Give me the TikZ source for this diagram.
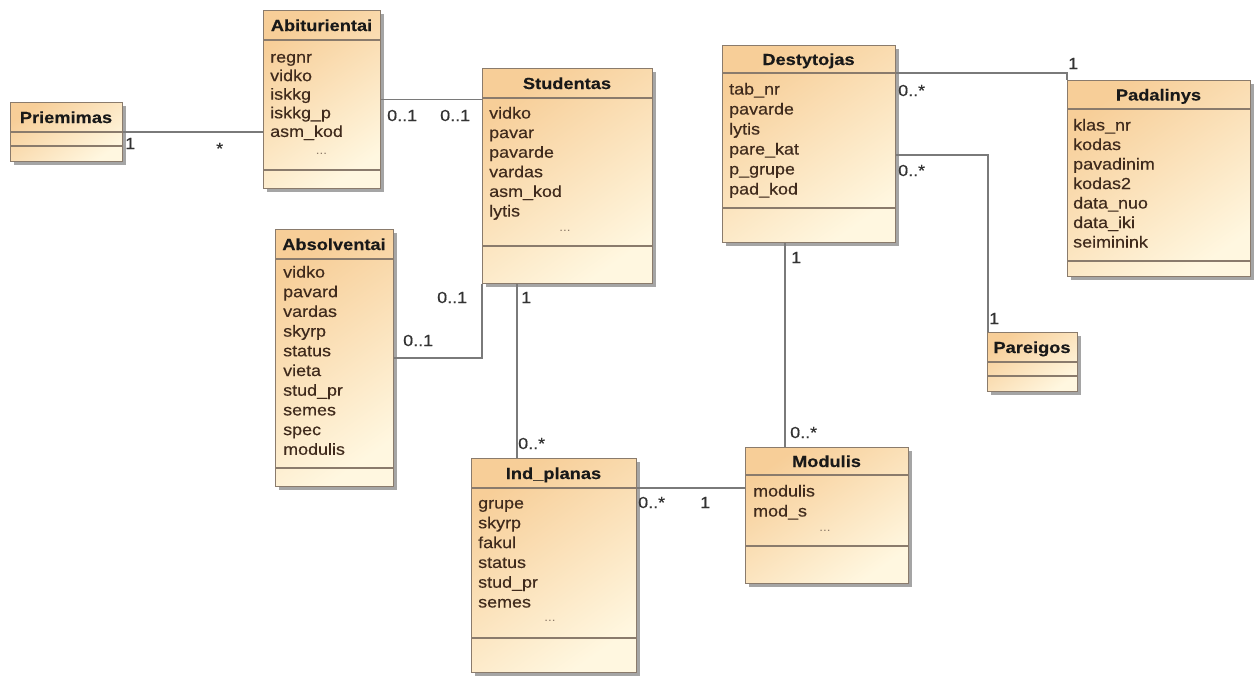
\documentclass[tikz,border=0pt]{standalone}
\usepackage{fontspec}
\setmainfont{Liberation Sans}[FakeStretch=1.12]
\newfontfamily\attrfont{Liberation Sans}[FakeStretch=1.12, FakeBold=0.35]
\newfontfamily\titlefont{Liberation Sans Bold}[FakeStretch=1.14, FakeBold=0.3]
\usetikzlibrary{shadows}

\definecolor{boxtop}{HTML}{F7CE98}
\definecolor{boxbot}{HTML}{FFF7E0}
\definecolor{boxedge}{HTML}{8A7B6C}
\definecolor{linkgray}{HTML}{7A7A7A}
\definecolor{attrink}{HTML}{3F2A1C}
\definecolor{dotsink}{HTML}{8C7A68}
\definecolor{multink}{HTML}{333333}

\tikzset{
  classbox/.style={draw=boxedge, line width=1.1pt, inner sep=0pt,
    top color=boxtop, bottom color=boxbot, shading angle=35,
    drop shadow={shadow xshift=3pt, shadow yshift=-3pt, fill=black!50, opacity=0.7}},
  sepline/.style={draw=boxedge, line width=1.1pt},
  titletext/.style={font=\titlefont\fontsize{16}{19}\selectfont, text=black!90, inner sep=0pt, anchor=base},
  attrtext/.style={font=\attrfont\fontsize{16}{19}\selectfont, text=attrink, inner sep=0pt, anchor=base west},
  dotstext/.style={font=\fontsize{12}{14}\selectfont, text=dotsink, inner sep=0pt},
  mult/.style={font=\attrfont\fontsize{16}{19}\selectfont, text=multink, inner sep=0pt, anchor=base west},
  link/.style={draw=linkgray, line width=1.6pt},
}

% class box: name, left, top, right, bottom, title separator y, attribute separator y, title
\newcommand\umlclass[8]{%
  \node[classbox, anchor=north west, minimum width={(#4-#2)*1pt}, minimum height={(#5-#3)*1pt}] (#1) at (#2,#3) {};
  \draw[sepline] (#2,#6) -- (#4,#6);
  \draw[sepline] (#2,#7) -- (#4,#7);
  \node[titletext] (#1-title) at ({(#2+#4)/2},{(#3+#6)/2+6}) {#8};
}
% attribute list: name, text x, first baseline, line spacing, list
\newcommand\umlattrs[5]{%
  \foreach \t [count=\i] in {#5}
    \node[attrtext] (#1-a\i) at (#2,{#3+(\i-1)*#4}) {\t};
}

\begin{document}
\begin{tikzpicture}[x=1pt, y=-1pt]
\useasboundingbox[fill=white] (0,0) rectangle (1256,675);

% ---- classes ----
\umlclass{Priemimas}{10}{102}{122}{161}{132}{146}{Priemimas}

\umlclass{Abiturientai}{263}{10}{380}{188}{40}{170}{Abiturientai}
\umlattrs{Abiturientai}{270}{62.5}{18.6}{regnr,vidko,iskkg,iskkg\_p,asm\_kod}
\node[dotstext] (Abiturientai-dots) at (321.5,154) {...};

\umlclass{Studentas}{482}{68}{652}{283}{98}{246}{Studentas}
\umlattrs{Studentas}{489}{118.5}{19.6}{vidko,pavar,pavarde,vardas,asm\_kod,lytis}
\node[dotstext] (Studentas-dots) at (565,231) {...};

\umlclass{Absolventai}{275}{229}{393}{486}{259}{468}{Absolventai}
\umlattrs{Absolventai}{283}{277.5}{19.7}{vidko,pavard,vardas,skyrp,status,vieta,stud\_pr,semes,spec,modulis}

\umlclass{Destytojas}{722}{45}{895}{242}{73}{208}{Destytojas}
\umlattrs{Destytojas}{729}{94.5}{20}{tab\_nr,pavarde,lytis,pare\_kat,p\_grupe,pad\_kod}

\umlclass{Padalinys}{1067}{80}{1250}{276}{109}{261}{Padalinys}
\umlattrs{Padalinys}{1073}{130.5}{19.5}{klas\_nr,kodas,pavadinim,kodas2,data\_nuo,data\_iki,seiminink}

\umlclass{Pareigos}{987}{332}{1077}{391}{362}{376}{Pareigos}

\umlclass{Indplanas}{471}{458}{636}{672}{488}{638}{Ind\_planas}
\umlattrs{Indplanas}{478}{508.5}{19.8}{grupe,skyrp,fakul,status,stud\_pr,semes}
\node[dotstext] (Indplanas-dots) at (550,621) {...};

\umlclass{Modulis}{745}{447}{908}{583}{475}{546}{Modulis}
\umlattrs{Modulis}{753}{496.5}{20}{modulis,mod\_s}
\node[dotstext] (Modulis-dots) at (825,531) {...};

% ---- associations ----
\draw[link] (Priemimas.east) -- (Priemimas.east -| Abiturientai.west);
\node[mult] (m-pri) at (125,149) {1};
\node[mult] (m-abi1) at (216,154) {*};

\draw[link] (Abiturientai.east) -- (Abiturientai.east -| Studentas.west);
\node[mult] (m-abi2) at (387,121) {0..1};
\node[mult] (m-stu1) at (440,121) {0..1};

\draw[link] (Absolventai.east) -| (Studentas.south west);
\node[mult] (m-abs) at (403,346) {0..1};
\node[mult] (m-stu2) at (437,303) {0..1};

\coordinate (stu-ind) at ([xshift=35pt]Studentas.south west);
\draw[link] (stu-ind) -- (stu-ind |- Indplanas.north);
\node[mult] (m-stu3) at (521,303) {1};
\node[mult] (m-ind1) at (518,449) {0..*};

\coordinate (ind-mod) at ([yshift=-30pt]Indplanas.north east);
\draw[link] (ind-mod) -- (ind-mod -| Modulis.west);
\node[mult] (m-ind2) at (638,508) {0..*};
\node[mult] (m-mod1) at (700,508) {1};

\coordinate (des-mod) at ([xshift=63pt]Destytojas.south west);
\draw[link] (des-mod) -- (des-mod |- Modulis.north);
\node[mult] (m-des1) at (791,263) {1};
\node[mult] (m-mod2) at (790,438) {0..*};

\coordinate (des-pad) at ([yshift=-28pt]Destytojas.north east);
\draw[link] (des-pad) -- (des-pad -| Padalinys.north west) -- (Padalinys.north west);
\node[mult] (m-des2) at (898,96) {0..*};
\node[mult] (m-pad) at (1068,69) {1};

\coordinate (des-par) at ([yshift=-110pt]Destytojas.north east);
\draw[link] (des-par) -| ([xshift=1pt]Pareigos.north west);
\node[mult] (m-des3) at (898,176) {0..*};
\node[mult] (m-par) at (989,324) {1};
\end{tikzpicture}
\end{document}
